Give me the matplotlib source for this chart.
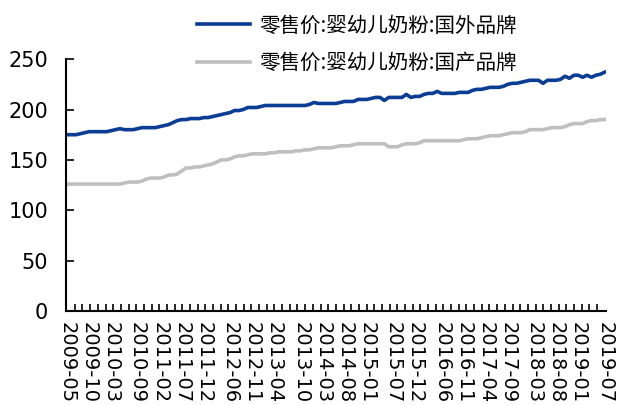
import matplotlib
matplotlib.use("Agg")
import matplotlib.pyplot as plt
import numpy as np

plt.rcParams["font.family"] = ["DejaVu Sans", "Noto Sans CJK SC"]

# monthly retail price index, 2009-05 .. 2019-07
foreign = [
    175, 175, 175, 176,
    177, 178, 178, 178, 178, 178,
    179, 180, 181,
    180, 180, 180, 181,
    182, 182, 182, 182,
    183, 184,
    185, 187,
    189, 190, 190,
    191, 191, 191, 192, 192,
    193, 194,
    195, 196, 197,
    199, 199, 200,
    202, 202, 202, 203,
    204, 204, 204, 204, 204, 204, 204, 204, 204, 204, 205,
    207,
    206, 206, 206, 206, 206,
    207, 208, 208, 208,
    210, 210, 210,
    211, 212, 212,
    209,
    212, 212, 212, 212,
    215,
    212, 213, 213,
    215, 216, 216,
    218,
    216, 216, 216, 216, 217,
    217, 217,
    219, 220, 220,
    221, 222, 222, 222, 223,
    225, 226, 226, 227,
    228, 229, 229, 229,
    226,
    229, 229, 229, 230,
    233,
    231,
    234, 234,
    232,
    234,
    232,
    234, 235,
    237,
]
domestic = [
    126, 126, 126, 126, 126, 126, 126, 126, 126, 126, 126, 126, 126,
    127, 128, 128, 128, 129,
    131, 132, 132, 132,
    133, 135, 135, 136,
    139, 142, 142,
    143, 143, 144,
    145, 146, 148,
    150, 150, 151,
    153, 154, 154, 155,
    156, 156, 156, 156, 157, 157,
    158, 158, 158, 158, 159, 159,
    160, 160, 161,
    162, 162, 162, 162, 163,
    164, 164, 164, 165,
    166, 166, 166, 166, 166, 166, 166,
    163, 163, 163,
    165, 166, 166, 166, 167,
    169, 169, 169, 169, 169, 169, 169, 169, 169,
    170, 171, 171, 171, 172,
    173, 174, 174, 174, 175,
    176, 177, 177, 177, 178,
    180, 180, 180, 180, 181,
    182, 182, 182, 183,
    185, 186, 186, 186,
    188, 189, 189, 190, 190,
]
tick_labels = [
    "2009-05", "2009-10", "2010-03", "2010-09", "2011-02", "2011-07",
    "2011-12", "2012-06", "2012-11", "2013-04", "2013-10", "2014-03",
    "2014-08", "2015-01", "2015-07", "2015-12", "2016-06", "2016-11",
    "2017-04", "2017-09", "2018-03", "2018-08", "2019-01", "2019-07",
]
tick_months = [0, 5, 10, 16, 21, 26, 31, 37, 42, 47, 53, 58,
               63, 68, 74, 79, 85, 90, 95, 100, 106, 111, 116, 122]

x = np.arange(len(foreign))

fig = plt.figure(figsize=(6.19, 4.05), dpi=100)
ax = fig.add_axes([0.107, 0.232, 0.872, 0.622])

ax.plot(x, foreign, color="#0a3d93", lw=2.6, label="零售价:婴幼儿奶粉:国外品牌")
ax.plot(x, domestic, color="#bfbfbf", lw=2.6, label="零售价:婴幼儿奶粉:国产品牌")

ax.set_xlim(-0.2, 122.3)
ax.set_ylim(0, 250)
ax.set_yticks(range(0, 251, 50))
ax.set_xticks(tick_months)
ax.set_xticklabels(tick_labels, rotation=270, fontsize=14)
# evenly spaced small tick marks along the category axis
ax.set_xticks(np.linspace(0, 122, 71), minor=True)
ax.tick_params(axis="x", which="major", length=0, pad=8)
ax.tick_params(axis="x", which="minor", direction="in", length=5, width=1.2)
ax.tick_params(axis="y", direction="in", length=6, width=1.2, labelsize=15, pad=13)

for side in ("top", "right"):
    ax.spines[side].set_visible(False)
for side in ("left", "bottom"):
    ax.spines[side].set_linewidth(1.5)

fig.legend(
    loc="upper left", bbox_to_anchor=(0.288, 1.01), frameon=False,
    handlelength=2.6, handletextpad=0.45, labelspacing=0.75,
    prop={"family": ["Noto Sans CJK SC"], "size": 14.8},
)

fig.savefig("out.png", dpi=100)
